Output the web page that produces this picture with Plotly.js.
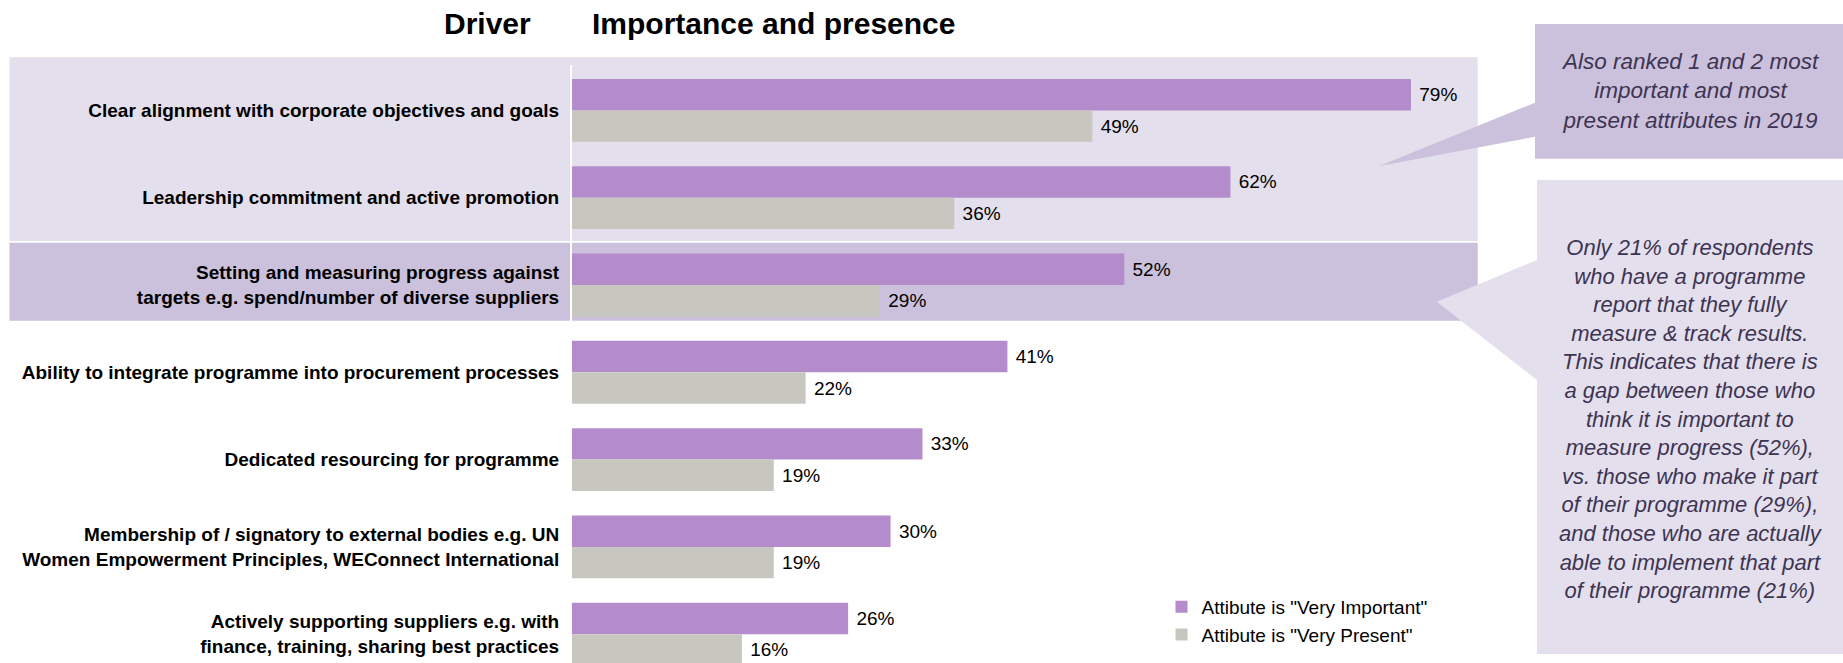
<!DOCTYPE html>
<html>
<head>
<meta charset="utf-8">
<script src="https://cdn.plot.ly/plotly-3.0.1.min.js"></script>
<style>
html,body{margin:0;padding:0;background:#fff;overflow:hidden;}
#chart{width:1843px;height:663px;}
</style>
</head>
<body>
<div id="chart"></div>
<script>
// ---- data ----
var categories = [
  "Clear alignment with corporate objectives and goals",
  "Leadership commitment and active promotion",
  "Setting and measuring progress against<br>targets e.g. spend/number of diverse suppliers",
  "Ability to integrate programme into procurement processes",
  "Dedicated resourcing for programme",
  "Membership of / signatory to external bodies e.g. UN<br>Women Empowerment Principles, WEConnect International",
  "Actively supporting suppliers e.g. with<br>finance, training, sharing best practices"
];
var veryImportant = [79, 62, 52, 41, 33, 30, 26];
var veryPresent   = [49, 36, 29, 22, 19, 19, 16];
var seriesNames = ['Attibute is "Very Important"', 'Attibute is "Very Present"'];
var callout1 = "Also ranked 1 and 2 most<br>important and most<br>present attributes in 2019";
var callout2 = "Only 21% of respondents<br>who have a programme<br>report that they fully<br>measure &amp; track results.<br>This indicates that there is<br>a gap between those who<br>think it is important to<br>measure progress (52%),<br>vs. those who make it part<br>of their programme (29%),<br>and those who are actually<br>able to implement that part<br>of their programme (21%)";

// ---- layout geometry ----
var W = 1843, H = 663;
var ML = 572, MR = 209, MT = 65, MB = 0;
var PW = W - ML - MR, PH = H - MT - MB;
var yTop = -0.52, yBot = 6.33;
function px(x){ return (x - ML) / PW; }          // pixel x -> paper x
function py(y){ return (H - MB - y) / PH; }      // pixel y -> paper y
function cy(c){ return (yBot - c) / (yBot - yTop); } // category position -> paper y

var FONT = "Liberation Sans, Arial, Helvetica, sans-serif";
var PURPLE = "#b48ccb", GREY = "#c8c7bf";
var BAND_LIGHT = "#e4dfec", BAND_DARK = "#cbc1dc";
var NOTE_COLOR = "#3d3452";

var traces = [
  {
    type: "bar", orientation: "h", name: seriesNames[0],
    y: categories, x: veryImportant,
    marker: {color: PURPLE},
    texttemplate: " %{x}%", textposition: "outside", cliponaxis: false,
    constraintext: "none",
    textfont: {family: FONT, size: 19, color: "#000"},
    hoverinfo: "x+y"
  },
  {
    type: "bar", orientation: "h", name: seriesNames[1],
    y: categories, x: veryPresent,
    marker: {color: GREY},
    texttemplate: " %{x}%", textposition: "outside", cliponaxis: false,
    constraintext: "none",
    textfont: {family: FONT, size: 19, color: "#000"},
    hoverinfo: "x+y"
  }
];

function pathFromPx(pts){
  return "M" + pts.map(function(p){ return px(p[0]).toFixed(5) + "," + py(p[1]).toFixed(5); }).join("L") + "Z";
}

var shapes = [
  // light band behind first two drivers
  {type: "rect", layer: "below", xref: "paper", yref: "paper",
   x0: px(9.4), x1: px(1477.7), y0: cy(-0.61), y1: cy(1.495),
   fillcolor: BAND_LIGHT, line: {width: 0}},
  // darker band behind the "Setting and measuring" driver
  {type: "rect", layer: "below", xref: "paper", yref: "paper",
   x0: px(9.4), x1: px(1477.7), y0: cy(1.515), y1: cy(2.41),
   fillcolor: BAND_DARK, line: {width: 0}},
  // callout 1 (box + pointer)
  {type: "path", layer: "below", xref: "paper", yref: "paper",
   path: pathFromPx([[1535,24],[1843,24],[1843,158.7],[1535,158.7],[1535,136.7],[1379.3,166],[1535,102.7]]),
   fillcolor: BAND_DARK, line: {width: 0}},
  // callout 2 (box + pointer)
  {type: "path", layer: "below", xref: "paper", yref: "paper",
   path: pathFromPx([[1537,180],[1843,180],[1843,654],[1537,654],[1537,380],[1436.7,301.7],[1537,260]]),
   fillcolor: BAND_LIGHT, line: {width: 0}}
];

var annotations = [
  {xref: "paper", yref: "paper", x: px(533), y: py(24), xanchor: "right", yanchor: "middle",
   text: "Driver", showarrow: false,
   font: {family: FONT, size: 30, color: "#000", weight: "bold"}},
  {xref: "paper", yref: "paper", x: px(590), y: py(24), xanchor: "left", yanchor: "middle",
   text: "Importance and presence", showarrow: false,
   font: {family: FONT, size: 30, color: "#000", weight: "bold"}},
  {xref: "paper", yref: "paper", x: px(1690), y: py(91), xanchor: "center", yanchor: "middle",
   text: callout1, showarrow: false, align: "center",
   font: {family: FONT, size: 22.5, color: NOTE_COLOR, style: "italic"}},
  {xref: "paper", yref: "paper", x: px(1691), y: py(419), xanchor: "center", yanchor: "middle",
   text: callout2, showarrow: false, align: "center",
   font: {family: FONT, size: 22, color: NOTE_COLOR, style: "italic"}}
];

var layout = {
  width: W, height: H,
  margin: {l: ML, r: MR, t: MT, b: MB, pad: 0},
  paper_bgcolor: "#ffffff",
  plot_bgcolor: "rgba(0,0,0,0)",
  barmode: "group",
  bargap: 0.28,
  bargroupgap: 0,
  font: {family: FONT, color: "#000"},
  xaxis: {range: [0, 100], showgrid: false, zeroline: false, showticklabels: false,
          showline: false, ticks: "", fixedrange: true},
  yaxis: {type: "category", range: [yBot, yTop], showgrid: false, zeroline: false,
          showline: true, linecolor: "#ffffff", linewidth: 2, ticks: "",
          ticklabelstandoff: 7,
          tickfont: {family: FONT, size: 19, color: "#000", weight: "bold"},
          fixedrange: true},
  showlegend: true,
  legend: {x: px(1161.5), y: py(588), xanchor: "left", yanchor: "top",
           traceorder: "normal", bgcolor: "rgba(0,0,0,0)", borderwidth: 0,
           font: {family: FONT, size: 19, color: "#000"}},
  shapes: shapes,
  annotations: annotations
};

Plotly.newPlot("chart", traces, layout, {displayModeBar: false, staticPlot: true});
</script>
</body>
</html>
